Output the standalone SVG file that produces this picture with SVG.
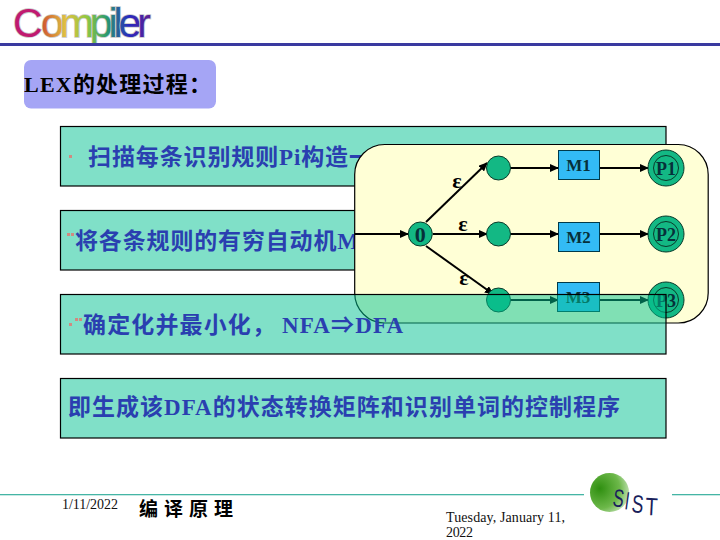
<svg xmlns="http://www.w3.org/2000/svg" width="720" height="540" viewBox="0 0 720 540">
<style>
.bx{fill:#80e0c8;stroke:#000;stroke-width:1.2}
.tx{font-family:"Liberation Serif","Noto Sans CJK SC",serif;font-size:23px;font-weight:bold;fill:#2a3fb0}
.bl{fill:#d08a80}
.c{stroke:#000;stroke-width:2;fill:none;marker-end:url(#ah)}
.st{fill:#13b884;stroke:#0a3a2a;stroke-width:1}
.m{fill:#33bbf5;stroke:#003a4a;stroke-width:1}
.lb{font-family:"Liberation Serif",serif;font-weight:bold;fill:#06303a;text-anchor:middle}
.ep{font-family:"Liberation Serif",serif;font-size:22px;font-weight:bold;fill:#000;text-anchor:middle}
.ft{font-family:"Liberation Serif",serif;font-size:14px;fill:#111}
.si{font-family:"Liberation Sans",sans-serif;font-size:25px;fill:#1a1f5c}
.lg{font-family:"Liberation Sans",sans-serif;font-size:41px;stroke:#c8c8c8;stroke-width:1.6;paint-order:stroke}
</style>
<defs>
<marker id="ah" markerUnits="userSpaceOnUse" markerWidth="9" markerHeight="8" refX="8" refY="4" orient="auto"><path d="M0 0L9 4L0 8Z" fill="#000"/></marker>
<linearGradient id="rb" x1="0" x2="1" y1="0" y2="0">
<stop offset="0" stop-color="#d05030"/><stop offset=".22" stop-color="#e0c040"/><stop offset=".42" stop-color="#90c840"/><stop offset=".6" stop-color="#2a9a70"/><stop offset=".8" stop-color="#2828c0"/><stop offset="1" stop-color="#602090"/>
</linearGradient>
<radialGradient id="gb" cx=".25" cy=".4" r=".85"><stop offset="0" stop-color="#2f8f10"/><stop offset=".6" stop-color="#6db84a"/><stop offset="1" stop-color="#d8ecd0"/></radialGradient>
</defs>
<rect width="720" height="540" fill="#fff"/>
<g id="logo">
<text class="lg" x="13" y="37" fill="#c01a70" font-size="42">C</text>
<text class="lg" x="41" y="37" fill="url(#rb)" textLength="110">ompiler</text>
</g>
<rect x="0" y="43" width="720" height="3" fill="#3a3aa0"/>
<g id="title">
<rect x="24" y="60" width="192" height="48.500" rx="7" fill="#a5a5f5"/>
<text x="24" y="92" textLength="187" font-family="Liberation Serif,Noto Sans CJK SC,serif" font-size="22" font-weight="bold" fill="#000">LEX的处理过程：</text>
</g>
<g id="box1">
<rect class="bx" x="60.500" y="126.500" width="605.500" height="59.500"/>
<rect class="bl" x="69" y="155" width="3" height="3"/>
<text class="tx" x="88" y="165" textLength="284">扫描每条识别规则Pi构造一</text>
</g>
<g id="box2">
<rect class="bx" x="60.500" y="210.500" width="605.500" height="59.500"/>
<rect class="bl" x="67" y="233" width="3" height="3"/><rect class="bl" x="71" y="233" width="3" height="3"/>
<text class="tx" x="75" y="249" textLength="284">将各条规则的有穷自动机M</text>
</g>
<g id="panel">
<rect x="354.700" y="144.500" width="353.500" height="178.500" rx="30" fill="#ffffd6" stroke="#000" stroke-width="1.200"/>
</g>
<g id="connectors">
<path class="c" d="M355 234H408"/>
<path class="c" d="M426 222L487 163"/>
<path class="c" d="M433 234H487"/>
<path class="c" d="M426 246L493 294"/>
<path class="c" d="M510 168H558"/>
<path class="c" d="M510 234H558"/>
<path class="c" d="M510 300H558"/>
<path class="c" d="M600 168H648"/>
<path class="c" d="M600 234H648"/>
<path class="c" d="M600 300H648"/>
</g>
<text class="ep" x="457" y="188">ε</text>
<text class="ep" x="463" y="231">ε</text>
<text class="ep" x="464" y="285">ε</text>
<g id="s0"><circle class="st" cx="420.300" cy="234" r="12"/><text class="lb" x="420.300" y="242" font-size="22">0</text></g>
<g id="s1"><circle class="st" cx="498.500" cy="168" r="12"/></g>
<g id="s2"><circle class="st" cx="498.500" cy="234" r="12"/></g>
<g id="s3"><circle class="st" cx="498.500" cy="300" r="12"/></g>
<g id="m1"><rect class="m" x="558.500" y="150.500" width="41" height="29"/><text class="lb" x="578.500" y="171" font-size="17">M1</text></g>
<g id="m2"><rect class="m" x="558.500" y="222.500" width="41" height="29"/><text class="lb" x="578.500" y="243" font-size="17">M2</text></g>
<g id="m3"><rect class="m" x="557.500" y="282.500" width="42" height="29"/><text class="lb" x="578" y="303" font-size="17">M3</text></g>
<g id="p1"><circle class="st" cx="666" cy="168" r="18"/><circle class="st" cx="666" cy="168" r="12.500"/><text class="lb" x="666" y="175" font-size="18">P1</text></g>
<g id="p2"><circle class="st" cx="666" cy="234" r="18"/><circle class="st" cx="666" cy="234" r="12.500"/><text class="lb" x="666" y="241" font-size="18">P2</text></g>
<g id="p3"><circle class="st" cx="666" cy="300" r="18"/><circle class="st" cx="666" cy="300" r="12.500"/><text class="lb" x="666" y="307" font-size="18">P3</text></g>
<g id="box3">
<rect x="60.500" y="294.500" width="605.500" height="59.500" fill="#01c191" fill-opacity=".5" stroke="#000" stroke-width="1.200"/>
<rect class="bl" x="69" y="323" width="3" height="3"/><rect class="bl" x="75" y="318" width="3" height="3"/><rect class="bl" x="79" y="318" width="3" height="3"/>
<text class="tx" x="83" y="333" textLength="192">确定化并最小化，</text>
<text class="tx" x="282" y="333" textLength="121">NFA⇒DFA</text>
</g>
<g id="box4">
<rect class="bx" x="60.500" y="378.500" width="605.500" height="59.500"/>
<text class="tx" x="68" y="415" textLength="552">即生成该DFA的状态转换矩阵和识别单词的控制程序</text>
</g>
<g id="footer">
<rect x="0" y="494" width="584" height="1.300" fill="#45b5a5"/>
<rect x="672" y="494" width="48" height="1.300" fill="#45b5a5"/>
<text class="ft" x="62" y="509" textLength="56">1/11/2022</text>
<text x="139" y="516" textLength="94" font-family="Liberation Serif,Noto Sans CJK SC,serif" font-size="19" font-weight="bold" fill="#000">编译原理</text>
<text class="ft" x="446" y="522" textLength="119">Tuesday, January 11,</text>
<text class="ft" x="446" y="537" textLength="27">2022</text>
</g>
<g id="sist">
<circle cx="609.500" cy="492.500" r="19.500" fill="url(#gb)"/>
<text class="si" transform="translate(612 506) rotate(8) scale(.65 1)">S</text>
<text class="si" transform="translate(624 509) rotate(8) scale(.6 1)">I</text>
<text class="si" transform="translate(631 512) rotate(6) scale(.7 1)">S</text>
<text class="si" transform="translate(645 515) rotate(3) scale(.8 1)">T</text>
</g>
</svg>
